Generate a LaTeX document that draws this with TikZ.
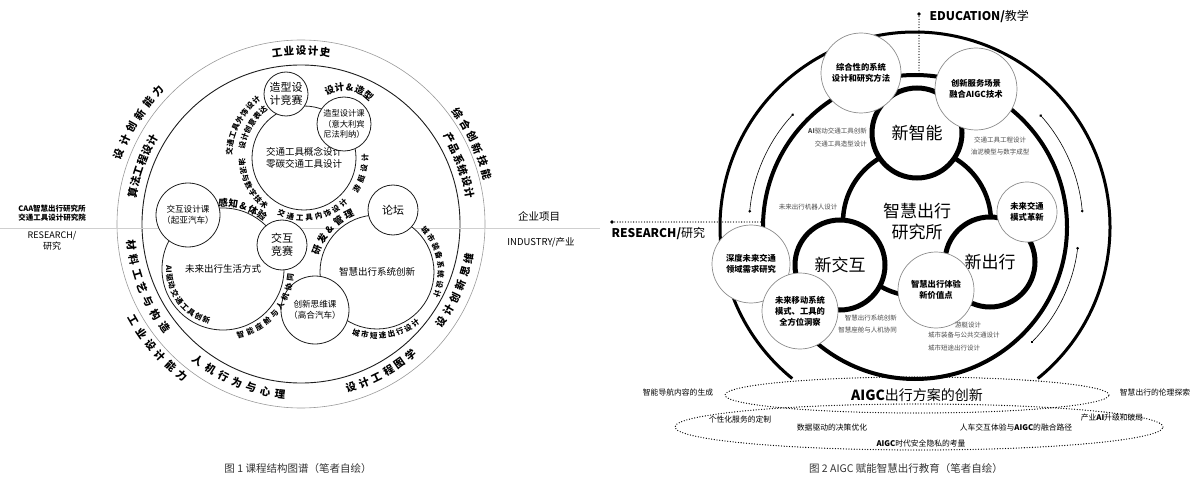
\documentclass[tikz,border=0pt]{standalone}
\usepackage{fontspec}
\setmainfont{Noto Sans CJK SC}
\usepackage{tikz}
\usetikzlibrary{arrows.meta,calc,shapes.geometric}
\definecolor{ink}{HTML}{1E1E1E}
\definecolor{ringgray}{HTML}{9A9A9A}
\definecolor{linegray}{HTML}{CFCFCF}
\definecolor{notegray}{HTML}{4A4A4A}
\tikzset{bub/.style={circle,draw=ink,fill=white,line width=0.8pt,align=center,inner sep=0pt,font=\fontsize{9.5}{12}\selectfont},ringtxt/.style={inner sep=0pt,font=\fontsize{10.5}{11}\selectfont\bfseries},tagtxt/.style={inner sep=0pt,font=\fontsize{9.5}{10}\selectfont\bfseries},arctxt/.style={inner sep=0pt,font=\fontsize{7.5}{8}\selectfont\bfseries}}
\newcommand{\arclabel}[8]{\foreach \arcch [count=\arcno] in {#8}{\pgfmathsetmacro\arcang{#5+(\arcno-1)*(#6)}\node[#2,rotate=\arcang+#7] (#1\arcno) at ($(#3)+(\arcang:#4)$) {\arcch};}}

\begin{document}
\begin{tikzpicture}[x=1pt,y=1pt,hub/.style={circle,draw=black,fill=white,inner sep=0pt,align=center,font=\fontsize{17}{21}\selectfont},sat/.style={circle,draw=black!45,fill=white,line width=0.7pt,inner sep=0pt,align=center,font=\fontsize{8.3}{11}\selectfont\bfseries},note/.style={inner sep=0pt,text=notegray,font=\fontsize{6.5}{12.5}\selectfont},dotline/.style={line width=1.3pt,line cap=round,dash pattern=on 0pt off 2.7pt},pin/.style={{Circle[length=2.6pt]}-{Circle[length=2.6pt]},line width=0.6pt},elltxt/.style={inner sep=0pt,font=\fontsize{7.8}{9}\selectfont}]
\useasboundingbox (0,0) rectangle (1200,-500);
\coordinate (cl) at (301,-224);
\draw[ringgray,line width=0.6pt] (cl) circle[radius=184];
\draw[ink,line width=0.9pt] (cl) circle[radius=159];
\coordinate (lw) at (0,-228);\coordinate (le) at (600,-228);
\draw[linegray,line width=0.8pt] (lw)--(le);
\node[bub,minimum size=104] (A) at (304,-158) {交通工具概念设计\\零碳交通工具设计};
\node[bub,minimum size=114] (E) at (377,-272) {智慧出行系统创新};
\node[bub,minimum size=122] (H) at (223,-269) {未来出行生活方式};
\node[bub,minimum size=44,font=\fontsize{11}{13}\selectfont] (B) at (286,-94) {造型设\\计竞赛};
\node[bub,minimum size=54,font=\fontsize{8.3}{10.5}\selectfont] (C) at (344,-124) {造型设计课\\（意大利宾\\尼法利纳）};
\node[bub,minimum size=50,font=\fontsize{11}{13}\selectfont] (D) at (393,-210) {论坛};
\node[bub,minimum size=50,font=\fontsize{11}{13}\selectfont] (F) at (282,-245) {交互\\竞赛};
\node[bub,minimum size=64,font=\fontsize{8.6}{11}\selectfont] (G) at (188,-215) {交互设计课\\（起亚汽车）};
\node[bub,minimum size=68,font=\fontsize{8.6}{11}\selectfont] (I) at (315,-310) {创新思维课\\（高合汽车）};
\arclabel{la}{ringtxt}{cl}{173}{98}{-4}{-90}{工,业,设,计,史}
\arclabel{lb}{ringtxt}{cl}{195}{159}{-4.4}{-90}{设,计,创,新,能,力}
\arclabel{lc}{ringtxt}{cl}{192}{35}{-4}{-90}{综,合,创,新,技,能}
\arclabel{ld}{ringtxt}{cl}{193}{210}{4.4}{90}{工,业,设,计,能,力}
\arclabel{le}{ringtxt}{cl}{171}{169.5}{-3.8}{-90}{算,法,工,程,设,计}
\arclabel{lf}{ringtxt}{cl}{171}{30}{-3.9}{-90}{产,品,系,统,设,计}
\arclabel{lg}{ringtxt}{cl}{171}{187}{5}{90}{材,料,工,艺,与,构,造}
\arclabel{lh}{ringtxt}{cl}{171}{233}{5}{90}{人,机,行,为,与,心,理}
\arclabel{li}{ringtxt}{cl}{171}{-73}{4.6}{90}{设,计,工,程,图,学}
\arclabel{lj}{ringtxt}{cl}{171}{-35}{4.7}{90}{设,计,创,新,思,维}
\arclabel{aa}{arctxt}{A}{75}{175}{-6.5}{-90}{交,通,工,具,外,饰,设,计}
\arclabel{ab}{arctxt}{A}{63}{168}{-7.5}{-90}{设,计,创,意,表,达}
\arclabel{ac}{arctxt}{A}{62}{184}{7.6}{90}{油,泥,与,数,字,技,术}
\arclabel{ad}{arctxt}{A}{60}{248}{9}{90}{交,通,工,具,内,饰,设,计}
\arclabel{ae}{arctxt}{A}{61}{-30}{10}{90}{游,艇,设,计}
\arclabel{ca}{tagtxt}{C}{37}{113}{-16}{-90}{设,计,\&,造,型}
\arclabel{ha}{tagtxt}{H}{66}{90}{-9}{-90}{感,知,\&,体,验}
\arclabel{hb}{arctxt}{H}{54}{180}{9}{90}{AI,驱,动,交,通,工,具,创,新}
\arclabel{hc}{arctxt}{H}{68}{-75}{8.5}{90}{智,能,座,舱,与,人,机,协,同}
\arclabel{ea}{tagtxt}{E}{64}{160}{-11}{-90}{研,发,\&,管,理}
\arclabel{eb}{arctxt}{E}{64}{41}{-8.7}{-90}{城,市,装,备,系,统,设,计}
\arclabel{ec}{arctxt}{E}{64}{251}{8}{90}{城,市,短,途,出,行,设,计}
\node[align=center,font=\fontsize{7.5}{9}\selectfont\bfseries] (caa) at (52,-213) {CAA智慧出行研究所\\交通工具设计研究院};
\node[align=center,font=\fontsize{9}{10.5}\selectfont] (lres) at (52,-241) {RESEARCH/\\研究};
\node[font=\fontsize{10.5}{12}\selectfont] (qy) at (539,-216) {企业项目};
\node[font=\fontsize{9.5}{12}\selectfont] (ind) at (541,-242) {INDUSTRY/产业};
\coordinate (cr) at (915,-227);
\draw[line width=3pt] ($(cr)+(-51:195)$) arc[start angle=-51,end angle=231,radius=195];
\draw[line width=4pt] (cr) circle[radius=152];
\draw[pin] ($(cr)+(137:166)$) arc[start angle=137,end angle=175,radius=166];
\draw[pin] ($(cr)+(42:168)$) arc[start angle=42,end angle=5,radius=168];
\draw[pin] ($(cr)+(-7:164)$) arc[start angle=-7,end angle=-45,radius=164];
\node[hub,minimum size=148,line width=4.5pt] (yjs) at (917,-222) {智慧出行\\研究所};
\node[hub,minimum size=90,line width=5pt] (xzn) at (917,-133) {新智能};
\node[hub,minimum size=90,line width=5pt] (xjh) at (840,-265) {新交互};
\node[hub,minimum size=90,line width=5pt] (xcx) at (990,-262) {新出行};
\node[sat,minimum size=80] (s1) at (861,-73) {综合性的系统\\设计和研究方法};
\node[sat,minimum size=82] (s2) at (976,-89) {创新服务场景\\融合AIGC技术};
\node[sat,minimum size=60] (s3) at (1027,-212) {未来交通\\模式革新};
\node[sat,minimum size=78] (s4) at (751,-264) {深度未来交通\\领域需求研究};
\node[sat,minimum size=76] (s5) at (800,-311) {未来移动系统\\模式、工具的\\全方位洞察};
\node[sat,minimum size=76] (s6) at (936,-290) {智慧出行体验\\新价值点};
\node[note,align=right,anchor=east] (n1) at (867,-137.5) {{\bfseries AI}驱动交通工具创新\\交通工具造型设计};
\node[note,align=center] (n2) at (1000,-146) {交通工具工程设计\\油泥模型与数字成型};
\node[note] (n3) at (808,-207) {未来出行机器人设计};
\node[note,align=right,anchor=east] (n4) at (897,-324) {智慧出行系统创新\\智慧座舱与人机协同};
\node[note,anchor=west] (n5) at (955,-325) {游艇设计};
\node[note,align=left,anchor=west] (n6) at (928,-341.5) {城市装备与公共交通设计\\城市短途出行设计};
\coordinate (edu) at (919,-14);\coordinate (edu2) at (919,-74);
\fill (edu) circle[radius=1.8];\draw[dotline] (edu)--(edu2);
\node[anchor=west,font=\fontsize{12}{14}\selectfont] (edutxt) at (926,-17) {{\bfseries EDUCATION/}教学};
\coordinate (res) at (612,-222);\coordinate (res2) at (764,-222);
\fill (res) circle[radius=1.8];\draw[dotline] (res)--(res2);
\node[anchor=west,font=\fontsize{12}{14}\selectfont] (restxt) at (608,-234) {{\bfseries RESEARCH/}研究};
\node[ellipse,dotline,draw,minimum width=488,minimum height=46] (e2) at (919,-427) {};
\node[ellipse,dotline,draw,minimum width=384,minimum height=36,font=\fontsize{14}{16}\selectfont] (e1) at (917,-395) {{\bfseries AIGC}出行方案的创新};
\node[elltxt] (t1) at (678,-393) {智能导航内容的生成};
\node[elltxt] (t2) at (1155,-393) {智慧出行的伦理探索};
\node[elltxt] (t3) at (740,-420) {个性化服务的定制};
\node[elltxt] (t4) at (832,-428) {数据驱动的决策优化};
\node[elltxt] (t5) at (1016,-428) {人车交互体验与{\bfseries AIGC}的融合路径};
\node[elltxt] (t6) at (1112,-418) {产业{\bfseries AI}升级和破局};
\node[elltxt] (t7) at (921,-443) {{\bfseries AIGC}时代安全隐私的考量};
\node[font=\fontsize{10.5}{12}\selectfont,text=black!80] (cap1) at (298,-469) {图 1 课程结构图谱（笔者自绘）};
\node[font=\fontsize{10.5}{12}\selectfont,text=black!80] (cap2) at (906,-469) {图 2 AIGC 赋能智慧出行教育（笔者自绘）};
\end{tikzpicture}
\end{document}
